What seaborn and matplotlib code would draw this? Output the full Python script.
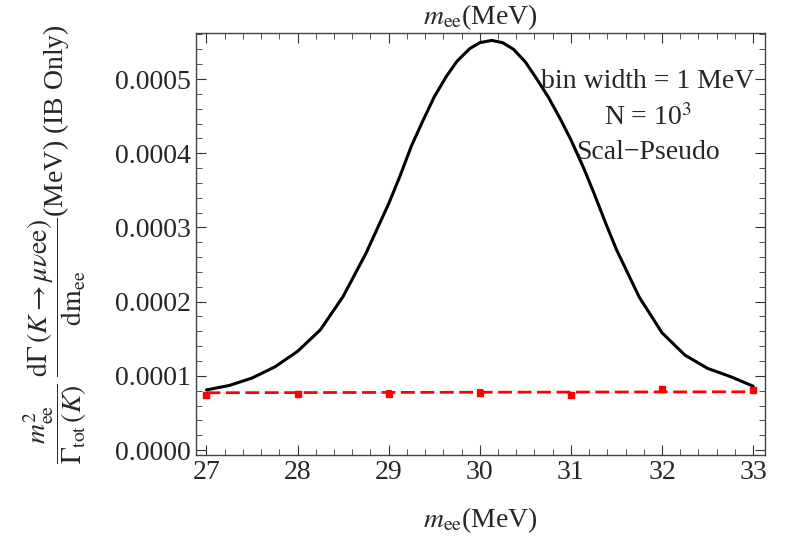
import numpy as np
import pandas as pd
import matplotlib
matplotlib.use("Agg")
import matplotlib.pyplot as plt
import seaborn as sns
from matplotlib.ticker import MultipleLocator, FormatStrFormatter

# curve (m_ee in MeV, value in 1e-4)
m_curve = [27.0, 27.25, 27.5, 27.75, 28.0, 28.25, 28.5, 28.75, 29.0, 29.12,
           29.25, 29.38, 29.5, 29.63, 29.75, 29.89, 30.0, 30.13, 30.25, 30.37,
           30.5, 30.62, 30.75, 30.88, 31.0, 31.14, 31.25, 31.39, 31.5, 31.75,
           32.0, 32.25, 32.5, 32.75, 33.0]
y_curve = [0.81, 0.87, 0.97, 1.12, 1.33, 1.62, 2.07, 2.65, 3.32, 3.68,
           4.10, 4.45, 4.76, 5.03, 5.24, 5.41, 5.49, 5.52, 5.49, 5.40,
           5.23, 5.01, 4.76, 4.47, 4.18, 3.80, 3.47, 3.03, 2.70, 2.06,
           1.58, 1.28, 1.10, 0.99, 0.86]
y_curve = [v * 1e-4 for v in y_curve]

# binned points with errors
m_bins = [27, 28, 29, 30, 31, 32, 33]
y_bins = [0.745, 0.75, 0.76, 0.775, 0.745, 0.82, 0.81]
y_bins = [v * 1e-4 for v in y_bins]
y_err = [0.03e-4] * 7

# dashed fit line
m_fit = [27, 33]
y_fit = [0.772e-4, 0.785e-4]

df_curve = pd.DataFrame({"m": m_curve, "y": y_curve})
df_fit = pd.DataFrame({"m": m_fit, "y": y_fit})

sns.set_style("white")
plt.rcParams["font.family"] = ["Liberation Serif", "DejaVu Serif"]
plt.rcParams["mathtext.fontset"] = "stix"

fig = plt.figure(figsize=(7.88, 5.37), dpi=100)
ax = fig.add_axes([196 / 788, 1 - 455 / 537, (765 - 196) / 788, (455 - 33) / 537])

sns.lineplot(data=df_curve, x="m", y="y", color="black", linewidth=2.2, ax=ax)
sns.lineplot(data=df_fit, x="m", y="y", color="red", linewidth=2,
             linestyle=(0, (5, 2)), ax=ax)
ax.errorbar(m_bins, y_bins, yerr=y_err, fmt="s", color="red", markersize=4,
            capsize=2, elinewidth=1.5, capthick=1.5)

ax.set_xlim(26.885, 33.13)
ax.set_ylim(-0.0000067, 0.000562)
ax.xaxis.set_major_locator(MultipleLocator(1))
ax.xaxis.set_minor_locator(MultipleLocator(0.2))
ax.yaxis.set_major_locator(MultipleLocator(0.0001))
ax.yaxis.set_minor_locator(MultipleLocator(0.00002))
ax.yaxis.set_major_formatter(FormatStrFormatter("%.4f"))
ax.tick_params(which="both", direction="in", top=True, right=True,
               bottom=True, left=True, labelsize=20, color="#333333")
ax.tick_params(which="major", length=7, width=0.8)
ax.tick_params(which="minor", length=4, width=0.6)
for s in ax.spines.values():
    s.set_color("#444444")
    s.set_linewidth(1.0)

ax.set_xlabel(r"$m_{\mathrm{ee}}$(MeV)", fontsize=20, labelpad=15)
ax.text(0.5, 1 + 31 / 422, r"$m_{\mathrm{ee}}$(MeV)", transform=ax.transAxes,
        ha="center", va="top", fontsize=20)
ax.set_ylabel(r"$\dfrac{m_{\mathrm{ee}}^2}{\Gamma_{\mathrm{tot}}\,(K)}\;"
              r"\dfrac{\mathrm{d}\Gamma\,(K\rightarrow\mu\nu\mathrm{ee})}{\mathrm{dm}_{\mathrm{ee}}}$"
              "(MeV) (IB Only)", fontsize=20, labelpad=19)

ax.text(0.794, 0.884, "bin width = 1 MeV", transform=ax.transAxes,
        ha="center", va="center", fontsize=20)
ax.text(0.794, 0.799, r"N = 10$^3$", transform=ax.transAxes,
        ha="center", va="center", fontsize=20)
ax.text(0.794, 0.716, "Scal\u2212Pseudo", transform=ax.transAxes,
        ha="center", va="center", fontsize=20)

fig.savefig("out.png", dpi=100)
